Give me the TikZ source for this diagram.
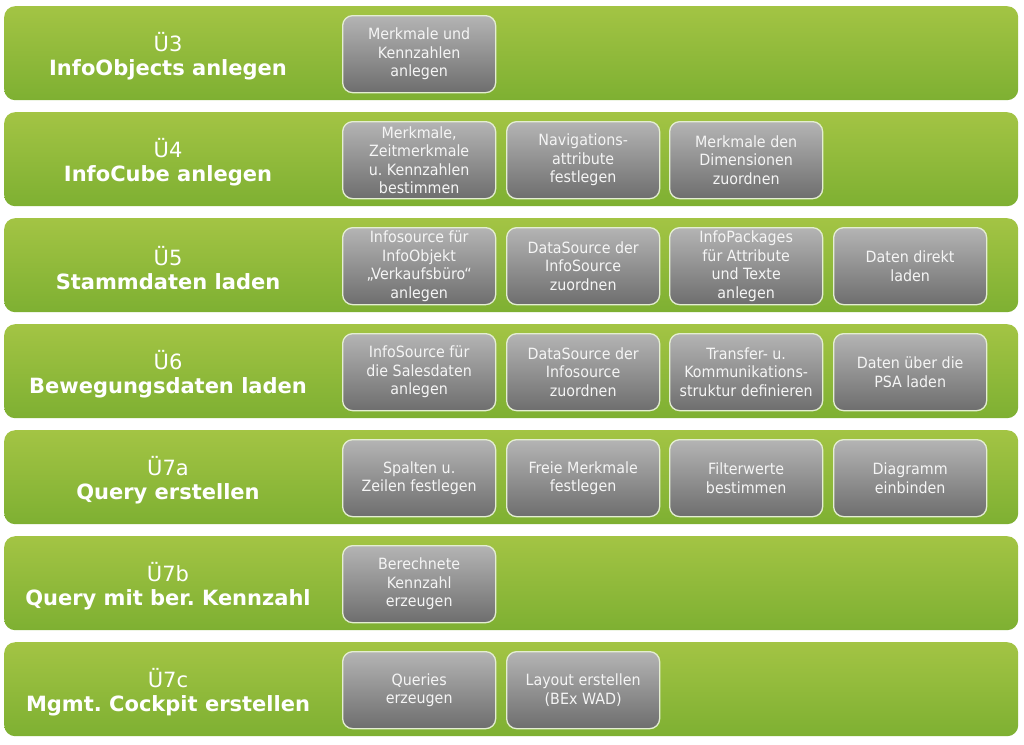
\documentclass[tikz,border=0pt]{standalone}
\usepackage{fontspec}
\setmainfont{DejaVu Sans}
\newfontfamily\boxfont{DejaVu Sans}[FakeStretch=0.92]
\frenchspacing
\definecolor{bandtop}{RGB}{163,196,68}
\definecolor{bandbot}{RGB}{126,176,50}
\definecolor{boxtop}{RGB}{180,180,180}
\definecolor{boxbot}{RGB}{110,110,110}
\definecolor{boxedge}{RGB}{228,238,210}
\definecolor{boxtext}{RGB}{245,245,245}
\begin{document}
\begin{tikzpicture}[x=1pt,y=-1pt,
  band/.style={rounded corners=11pt, top color=bandtop, bottom color=bandbot, draw=none, inner sep=0pt,
    minimum width=1014pt, minimum height=94pt, anchor=north west},
  task/.style={rounded corners=10pt, top color=boxtop, bottom color=boxbot, draw=boxedge, line width=1.3pt,
    minimum width=153pt, minimum height=77pt, anchor=north west, align=center, text=boxtext,
    font=\boxfont\fontsize{15.5}{18.5}\selectfont, inner sep=1pt},
  lbl/.style={align=center, text=white, font=\fontsize{21}{24.5}\selectfont}]
\useasboundingbox (0,0) rectangle (1024,744);
\fill[white] (0,0) rectangle (1024,744);
% bands
\foreach \i in {0,...,6} {
  \node[band] (band\i) at (4,{6+106*\i}) {};
}
% labels
\node[lbl] (l0) at (168,56) {Ü3\\\textbf{InfoObjects anlegen}};
\node[lbl] (l1) at (168,162) {Ü4\\\textbf{InfoCube anlegen}};
\node[lbl] (l2) at (168,268) {Ü5\\\textbf{Stammdaten laden}};
\node[lbl] (l3) at (168,374) {Ü6\\\textbf{Bewegungsdaten laden}};
\node[lbl] (l4) at (168,480) {Ü7a\\\textbf{Query erstellen}};
\node[lbl] (l5) at (168,586) {Ü7b\\\textbf{Query mit ber. Kennzahl}};
\node[lbl] (l6) at (168,692) {Ü7c\\\textbf{Mgmt. Cockpit erstellen}};
% tasks
\node[task] (t0a) at (342,15) {Merkmale und\\Kennzahlen\\anlegen};
\node[task] (t1a) at (342,121) {Merkmale,\\Zeitmerkmale\\u. Kennzahlen\\bestimmen};
\node[task] (t1b) at (506,121) {Navigations-\\attribute\\festlegen};
\node[task] (t1c) at (669,121) {Merkmale den\\Dimensionen\\zuordnen};
\node[task] (t2a) at (342,227) {Infosource für\\InfoObjekt\\„Verkaufsbüro“\\anlegen};
\node[task] (t2b) at (506,227) {DataSource der\\InfoSource\\zuordnen};
\node[task] (t2c) at (669,227) {InfoPackages\\für Attribute\\und Texte\\anlegen};
\node[task] (t2d) at (833,227) {Daten direkt\\laden};
\node[task] (t3a) at (342,333) {InfoSource für\\die Salesdaten\\anlegen};
\node[task] (t3b) at (506,333) {DataSource der\\Infosource\\zuordnen};
\node[task] (t3c) at (669,333) {Transfer- u.\\Kommunikations-\\struktur definieren};
\node[task] (t3d) at (833,333) {Daten über die\\PSA laden};
\node[task] (t4a) at (342,439) {Spalten u.\\Zeilen festlegen};
\node[task] (t4b) at (506,439) {Freie Merkmale\\festlegen};
\node[task] (t4c) at (669,439) {Filterwerte\\bestimmen};
\node[task] (t4d) at (833,439) {Diagramm\\einbinden};
\node[task] (t5a) at (342,545) {Berechnete\\Kennzahl\\erzeugen};
\node[task] (t6a) at (342,651) {Queries\\erzeugen};
\node[task] (t6b) at (506,651) {Layout erstellen\\(BEx WAD)};
\end{tikzpicture}
\end{document}
